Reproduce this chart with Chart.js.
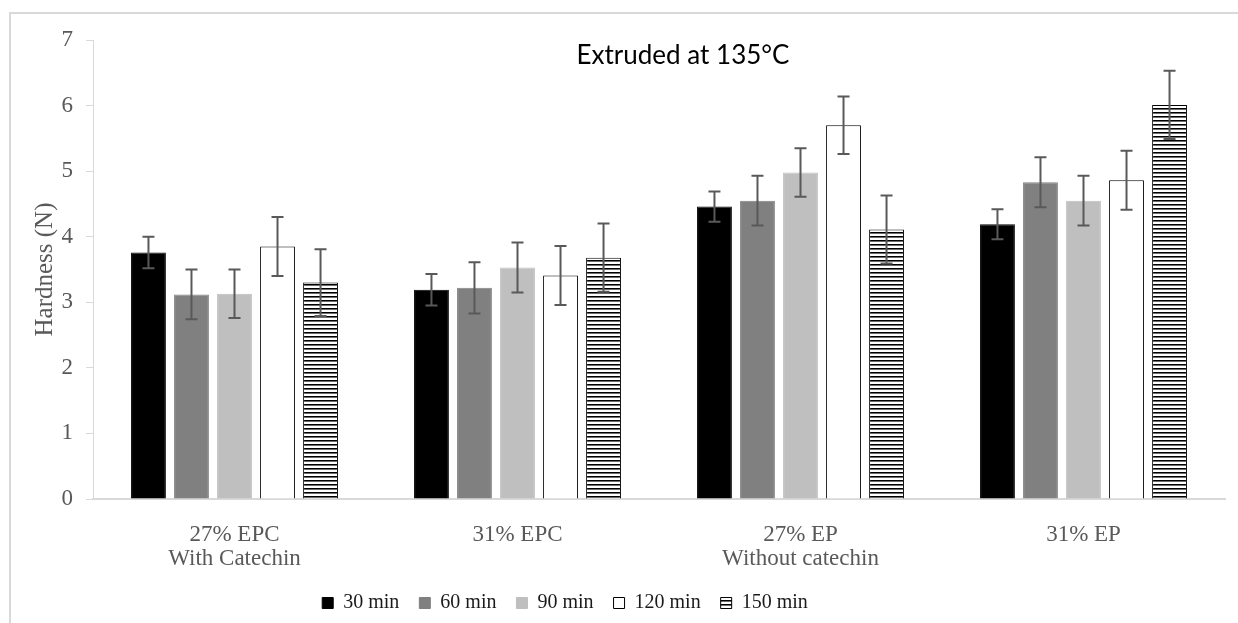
<!DOCTYPE html>
<html>
<head>
<meta charset="utf-8">
<script src="https://cdn.jsdelivr.net/npm/chart.js@4/dist/chart.umd.min.js"></script>
<style>
  html, body { margin: 0; padding: 0; background: #fff; }
  #wrap { width: 1238px; height: 623px; position: relative; }
</style>
</head>
<body>
<div id="wrap"><canvas id="myChart"></canvas></div>
<script>
const categories = [['27% EPC', 'With Catechin'], '31% EPC', ['27% EP', 'Without catechin'], '31% EP'];
const seriesNames = ['30 min', '60 min', '90 min', '120 min', '150 min'];

const hard30 = [3.76, 3.19, 4.46, 4.19];
const hard60 = [3.12, 3.22, 4.55, 4.83];
const hard90 = [3.13, 3.53, 4.98, 4.55];
const hard120 = [3.85, 3.41, 5.70, 4.86];
const hard150 = [3.30, 3.68, 4.11, 6.01];

const err30 = [0.24, 0.24, 0.23, 0.23];
const err60 = [0.38, 0.39, 0.38, 0.38];
const err90 = [0.37, 0.38, 0.37, 0.38];
const err120 = [0.45, 0.45, 0.44, 0.45];
const err150 = [0.51, 0.52, 0.52, 0.52];

const yTicks = [0, 1, 2, 3, 4, 5, 6, 7];

// horizontal stripe fill for the 150 min bars
function makeStripes() {
    const c = document.createElement('canvas');
    c.width = 8; c.height = 4;
    const g = c.getContext('2d');
    g.fillStyle = '#ffffff';
    g.fillRect(0, 0, 8, 4);
    g.fillStyle = '#000000';
    g.fillRect(0, 0, 8, 1);
    g.fillStyle = '#6a6a6a';
    g.fillRect(0, 1, 8, 1);
    return g.createPattern(c, 'repeat');
}
const stripes = makeStripes();

const values = [hard30, hard60, hard90, hard120, hard150];
const errors = [err30, err60, err90, err120, err150];
const fills = ['#000000', '#808080', '#bfbfbf', '#ffffff', stripes];
const borders = ['#000000', '#808080', '#bfbfbf', '#000000', '#000000'];

const datasets = seriesNames.map(function(name, i) {
    return {
        label: name,
        data: values[i],
        errors: errors[i],
        backgroundColor: fills[i],
        borderColor: borders[i],
        borderWidth: 1,
        categoryPercentage: 0.76,
        barPercentage: 0.81
    };
});

const errorBars = {
    id: 'errorBars',
    afterLayout(chart) {
        // Excel put the legend a bit left of the canvas centre
        const lg = chart.legend;
        const shift = 565 - (lg.left + lg.right) / 2;
        lg.left += shift;
        lg.right += shift;
    },
    afterDatasetsDraw(chart) {
        const ctx = chart.ctx;
        const y = chart.scales.y;
        ctx.save();
        ctx.strokeStyle = '#595959';
        ctx.lineWidth = 2;
        chart.data.datasets.forEach(function(ds, di) {
            const meta = chart.getDatasetMeta(di);
            meta.data.forEach(function(bar, i) {
                const v = ds.data[i], e = ds.errors[i];
                const top = y.getPixelForValue(v + e);
                const bot = y.getPixelForValue(v - e);
                ctx.beginPath();
                ctx.moveTo(bar.x, top); ctx.lineTo(bar.x, bot);
                ctx.moveTo(bar.x - 6, top); ctx.lineTo(bar.x + 6, top);
                ctx.moveTo(bar.x - 6, bot); ctx.lineTo(bar.x + 6, bot);
                ctx.stroke();
            });
        });
        ctx.restore();
    },
    afterDraw(chart) {
        const ctx = chart.ctx;
        ctx.save();
        // outer frame (top and left edges only visible)
        ctx.strokeStyle = '#d9d9d9';
        ctx.lineWidth = 2;
        ctx.beginPath();
        ctx.moveTo(10, 640); ctx.lineTo(10, 13); ctx.lineTo(1260, 13);
        ctx.stroke();
        ctx.fillStyle = '#000000';
        ctx.font = '26px Lato';
        ctx.textAlign = 'center';
        ctx.textBaseline = 'middle';
        ctx.fillText('Extruded at 135°C', 683, 56);
        ctx.restore();
    }
};

new Chart(document.getElementById('myChart').getContext('2d'), {
    type: 'bar',
    data: { labels: categories, datasets: datasets },
    plugins: [errorBars],
    options: {
        responsive: true,
        maintainAspectRatio: false,
        animation: false,
        layout: { padding: { left: 20, right: 13, top: 40, bottom: 0 } },
        plugins: {
            tooltip: { enabled: false },
            legend: {
                position: 'bottom',
                labels: {
                    boxWidth: 11,
                    boxHeight: 11,
                    padding: 20,
                    color: '#1a1a1a',
                    font: { family: 'Liberation Serif', size: 20 }
                }
            }
        },
        scales: {
            x: {
                grid: { display: false },
                border: { color: '#d9d9d9', width: 2 },
                ticks: {
                    color: '#595959',
                    padding: 16,
                    maxRotation: 0,
                    font: { family: 'Liberation Serif', size: 23, lineHeight: 1.05 }
                },
                afterFit: function(s) { s.height = 74; }
            },
            y: {
                min: 0,
                max: 7,
                afterBuildTicks: function(s) { s.ticks = yTicks.map(function(v) { return { value: v }; }); },
                grid: { drawOnChartArea: false, drawTicks: true, tickLength: 7, color: '#d9d9d9' },
                border: { color: '#d9d9d9', width: 1 },
                ticks: {
                    color: '#595959',
                    padding: 13,
                    font: { family: 'Liberation Serif', size: 23 }
                },
                title: {
                    display: true,
                    text: 'Hardness (N)',
                    color: '#595959',
                    padding: { top: 10 },
                    font: { family: 'Liberation Serif', size: 25 }
                },
                afterFit: function(s) { s.width = 73; }
            }
        }
    }
});
</script>
</body>
</html>
